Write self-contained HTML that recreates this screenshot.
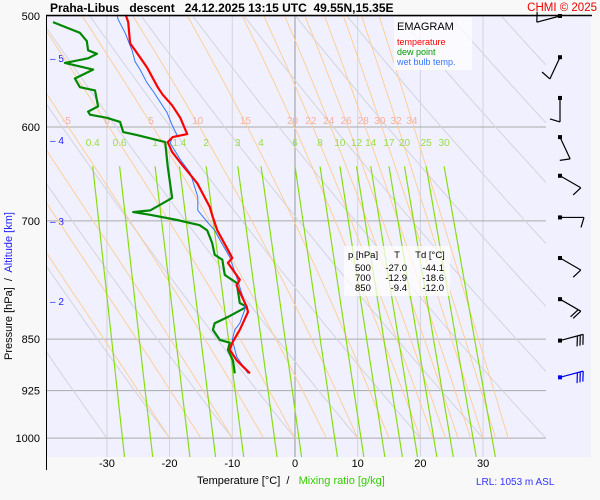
<!DOCTYPE html>
<html><head><meta charset="utf-8"><style>
body{margin:0;background:#f8f8f8;}
svg{display:block;font-family:"Liberation Sans",sans-serif;}
</style></head><body>
<svg id="chart" width="600" height="500" viewBox="0 0 600 500">
<rect x="0" y="0" width="600" height="500" fill="#f8f8f8"/>
<rect x="46" y="16" width="545" height="441" fill="#f0f0ff"/>
<defs>
<clipPath id="cA"><rect x="46" y="16" width="500" height="422"/></clipPath>
<clipPath id="cG"><rect x="46" y="155" width="500" height="302"/></clipPath>
</defs>
<g id="grid"></g>
<g id="gray" clip-path="url(#cA)"></g>
<g id="orange" clip-path="url(#cA)"></g>
<g id="green" clip-path="url(#cG)"></g>
<g id="labels"></g>
<g id="series"></g>
<g id="barbs"></g>
<line x1="46" y1="15.5" x2="592" y2="15.5" stroke="#000" stroke-width="1.5"/>
<line x1="46.5" y1="15" x2="46.5" y2="470" stroke="#000" stroke-width="1"/>
<text x="50" y="12" font-size="12" font-weight="bold">Praha-Libus&#160;&#160; descent&#160;&#160; 24.12.2025 13:15 UTC&#160; 49.55N,15.35E</text>
<text x="597" y="11" font-size="11.5" fill="#ee0000" text-anchor="end">CHMI © 2025</text>
<g>
<rect x="394" y="17" width="78" height="53" fill="#ffffff" opacity="0.75"/>
<text x="397" y="30" font-size="11">EMAGRAM</text>
<text x="397" y="45" font-size="9" fill="#ff0000">temperature</text>
<text x="397" y="55" font-size="9" fill="#009900">dew point</text>
<text x="397" y="65" font-size="9" fill="#3377ff">wet bulb temp.</text>
</g>
<g font-size="9.5">
<rect x="344" y="246" width="106" height="50" fill="#ffffff" opacity="0.7"/>
<text x="348" y="258">p [hPa]</text>
<text x="397" y="258" text-anchor="middle">T</text>
<text x="430" y="258" text-anchor="middle">Td [°C]</text>
<text x="355" y="271">500</text><text x="407" y="271" text-anchor="end">-27.0</text><text x="444" y="271" text-anchor="end">-44.1</text>
<text x="355" y="281">700</text><text x="407" y="281" text-anchor="end">-12.9</text><text x="444" y="281" text-anchor="end">-18.6</text>
<text x="355" y="291">850</text><text x="407" y="291" text-anchor="end">-9.4</text><text x="444" y="291" text-anchor="end">-12.0</text>
</g>
<text x="197" y="484" font-size="11">Temperature [°C]&#160; /&#160;&#160; <tspan fill="#33cc00">Mixing ratio [g/kg]</tspan></text>
<text x="476" y="485" font-size="10" fill="#3333ff">LRL: 1053 m ASL</text>
<text transform="translate(12,360) rotate(-90)" font-size="11">Pressure [hPa]&#160; /&#160; <tspan fill="#2222ff">Altitude [km]</tspan></text>
<script>
const pLevels=[500,600,700,850,925,1000];
const tTicks=[-30,-20,-10,0,10,20,30];
const altKm=[5,4,3,2];
const altY=[58,140,221,301];
const tempP=[499,505,523,529,544,562,569,579,591,607,610,615,625,636,658,684,696,711,734,744,750,771,778,806,813,837,855,865,880,899];
const tempT=[-27.0,-26.6,-26.3,-25.5,-23.6,-21.9,-21.1,-19.6,-18.3,-17.2,-19.5,-20.3,-19.6,-18.3,-15.6,-13.6,-13.1,-12.4,-10.7,-10.0,-10.7,-8.8,-9.3,-7.7,-7.5,-8.8,-10.0,-10.4,-9.3,-7.2];
const dewP=[505,510,514,521,529,532,536,540,546,554,562,565,580,585,588,591,595,605,608,615,640,674,688,690,693,699,705,711,726,740,746,765,775,801,806,820,828,837,851,855,865,880,899];
const dewT=[-38.6,-36.2,-34.3,-33.2,-33.0,-31.6,-33.0,-36.7,-32.2,-35.1,-34.3,-31.9,-31.4,-33.0,-32.7,-30.0,-27.9,-27.4,-25.2,-20.7,-20.3,-19.6,-23.1,-25.8,-23.1,-18.8,-15.2,-14.0,-13.2,-12.8,-11.6,-11.2,-9.3,-8.8,-7.7,-10.8,-12.8,-13.1,-12.0,-10.4,-10.7,-9.9,-9.6];
const wbP=[499,503,514,529,539,546,558,566,586,598,608,611,616,633,647,673,688,701,711,722,743,768,801,810,828,837,851,875,899];
const wbT=[-28.4,-28.2,-27.1,-26.0,-25.5,-24.7,-23.6,-22.6,-20.4,-19.6,-18.8,-19.6,-19.9,-18.3,-16.7,-15.5,-15.5,-14.0,-12.8,-12.0,-10.4,-9.3,-8.0,-8.0,-8.8,-9.6,-10.0,-9.3,-7.5];
const thetaDry=[-60,-50,-40,-30,-20,-10,0,10,20,30,40,50,60,70,80,90,100,110];
const thetaW=[-20,-15,-10,-5,0,5,10,15,20,22,24,26,28,30,32,34];
const thetaWLabels=[-5,0,5,10,15,20,22,24,26,28,30,32,34];
const mixR=[0.4,0.6,1,1.4,2,3,4,6,8,10,12,14,17,20,25,30];
const windP=[500,535,572,610,650,696,744,796,852,905];
const windDir=[75,25,0,335,300,270,300,300,255,255];
const windKt=[5,5,5,5,5,5,5,15,25,25];

const NS="http://www.w3.org/2000/svg";
const X=t=>295+6.27*t;
const Y=p=>16+609*Math.log(p/500);
function mk(tag,attrs,parent){const e=document.createElementNS(NS,tag);for(const k in attrs)e.setAttribute(k,attrs[k]);parent.appendChild(e);return e;}
const grid=document.getElementById('grid');
tTicks.forEach(t=>{
  const l=mk('line',{x1:X(t),x2:X(t),y1:16,y2:457,stroke:t===0?'#999':'#d4d4dc','stroke-width':1},grid);
  
  
  const tx=mk('text',{x:X(t),y:467,'font-size':11,'text-anchor':'middle'},grid);tx.textContent=t;
  
  
});
pLevels.forEach(p=>{
  const l=mk('line',{x1:46,x2:546,y1:Y(p),y2:Y(p),stroke:'#aaa','stroke-width':1},grid);
  
  
  const tx=mk('text',{x:40,y:Y(p)+4,'font-size':11,'text-anchor':'end'},grid);tx.textContent=p;
  
  
});
altKm.forEach((k,i)=>{
  const tx=mk('text',{x:50,y:altY[i]+4,'font-size':10,fill:'#2222ff'},grid);tx.textContent='– '+k;
  
  
});
const gG=document.getElementById('gray');
thetaDry.forEach(th=>{
  let d='';for(let p=1000;p>=500;p-=10){const T=(th+273.15)*Math.pow(p/1000,0.286)-273.15;d+=(d?'L':'M')+X(T).toFixed(1)+','+Y(p).toFixed(1);}
  const e=mk('path',{d:d,fill:'none',stroke:'#d4d4dc','stroke-width':1},gG);
  
  
});
function es(T){return 6.112*Math.exp(17.67*T/(T+243.5));}
function moist(tw){const pts=[];let T=tw+273.15;for(let p=1000;p>=495;p-=2){pts.push([p,T-273.15]);const e=es(T-273.15),rs=0.622*e/(p-e);const dT=((287*T+2.5e6*rs)/p)/(1005+2.5e6*2.5e6*rs*0.622/(287*T*T));T-=dT*2;}return pts;}
const gO=document.getElementById('orange');const lab=document.getElementById('labels');
thetaW.forEach(tw=>{
  const pts=moist(tw);let d='';pts.forEach(q=>{d+=(d?'L':'M')+X(q[1]).toFixed(1)+','+Y(q[0]).toFixed(1);});
  const e=mk('path',{d:d,fill:'none',stroke:'#ffcc90','stroke-width':0.9},gO);
  
  
  if(thetaWLabels.includes(tw)){const q=pts.find(a=>a[0]<=600);
    const tx=mk('text',{x:X(q[1])-2,y:124,'font-size':10,fill:'#f4b0a0','text-anchor':'middle'},lab);tx.textContent=tw;
    
    }
});
function tdw(w,p){const e=w*p/(622+w);const a=Math.log(e/6.112);return 243.5*a/(17.67-a);}
const gM=document.getElementById('green');
mixR.forEach(w=>{
  const e=mk('line',{x1:X(tdw(w,640)),y1:Y(640),x2:X(tdw(w,1035)),y2:Y(1035),stroke:'#88dd11','stroke-width':1.2},gM);
  
  
  const tx=mk('text',{x:X(tdw(w,640)),y:146,'font-size':10,fill:'#99dd44','text-anchor':'middle'},lab);tx.textContent=w;
  
  
});
const ser=document.getElementById('series');
function line(P,T,col,w,name){let d='';P.forEach((p,i)=>{d+=(i?'L':'M')+X(T[i]).toFixed(1)+','+Y(p).toFixed(1);});
  const e=mk('path',{d:d,fill:'none',stroke:col,'stroke-width':w,'stroke-linejoin':'round'},ser);
  
  }
line(dewP,dewT,'#008800',2.2,'dew-point-line');
line(wbP,wbT,'#3377ff',1,'wet-bulb-line');
line(tempP,tempT,'#ff0000',2.2,'temperature-line');
const gB=document.getElementById('barbs');
windP.forEach((p,i)=>{
  const col=i===windP.length-1?'#0000ee':'#000';
  const x0=560,y0=Math.max(Y(p),15),a=windDir[i]*Math.PI/180,L=24;
  const dx=-Math.sin(a),dy=Math.cos(a);
  const x1=x0+dx*L,y1=y0+dy*L;
  const g=mk('g',{stroke:col,'stroke-width':1.2,fill:'none'},gB);
  
  
  mk('rect',{x:x0-2,y:y0-2,width:4,height:4,fill:col,stroke:'none'},g);
  mk('line',{x1:x0,y1:y0,x2:x1,y2:y1},g);
  let kt=windKt[i],k=0;
  const px=-dy,py=dx;
  while(kt>=10){const bx=x1-dx*k*3,by=y1-dy*k*3;mk('line',{x1:bx,y1:by,x2:bx+px*10-dx*3,y2:by+py*10-dy*3},g);kt-=10;k++;}
  if(kt>=5){const bx=x1-dx*(k*3),by=y1-dy*(k*3);mk('line',{x1:bx,y1:by,x2:bx+px*10-dx*3,y2:by+py*10-dy*3},g);}
});
</script>
</svg>
</body></html>
